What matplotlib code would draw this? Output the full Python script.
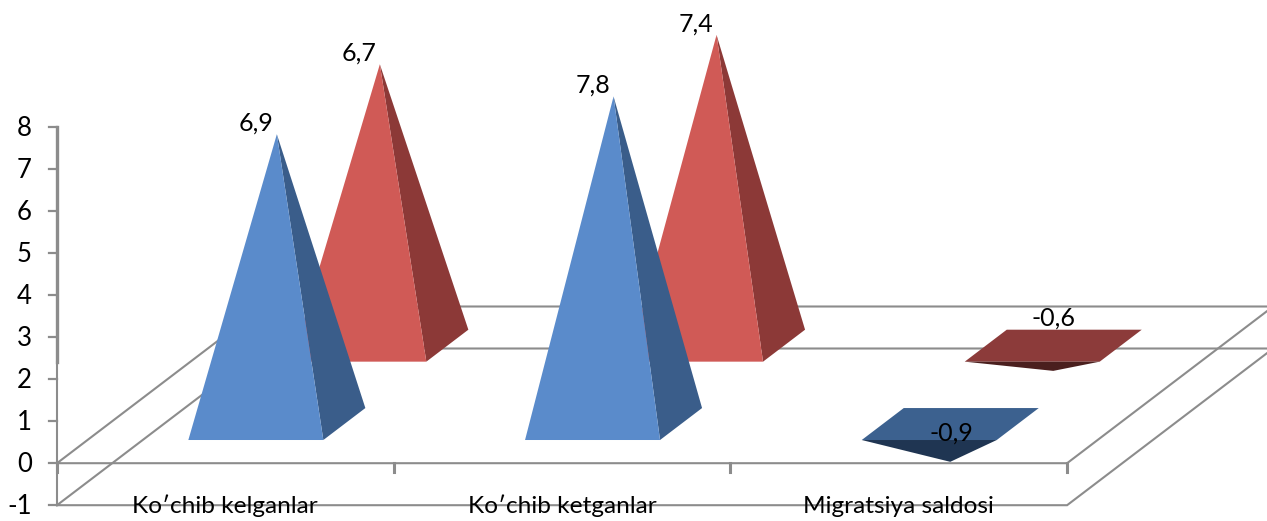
import matplotlib
matplotlib.use('Agg')
import matplotlib.pyplot as plt
from matplotlib.patches import Polygon

plt.rcParams['font.family'] = ['Lato', 'DejaVu Sans']

categories = ['Ko′chib kelganlar', 'Ko′chib ketganlar', 'Migratsiya saldosi']
series_a = [6.9, 7.8, -0.9]
series_b = [6.7, 7.4, -0.6]
labels_a = ['6,9', '7,8', '-0,9']
labels_b = ['6,7', '7,4', '-0,6']
value_ticks = [-1, 0, 1, 2, 3, 4, 5, 6, 7, 8]

# oblique projection, in category / value units
DEPTH_X = 206 / 336.7
DEPTH_Y = 156.7 / 42
WIDTH = 135 / 336.7
BASE_DEPTH = 0.204
GREY = '#8c8c8c'


def project(x, d, v):
    return (x + d * DEPTH_X, v + d * DEPTH_Y)


def pyramid(ax, cat, d_mid, value, light, dark, top, under, zorder):
    x = cat + 0.5
    d0 = d_mid - BASE_DEPTH / 2
    d1 = d_mid + BASE_DEPTH / 2
    fl = project(x - WIDTH / 2, d0, 0)
    fr = project(x + WIDTH / 2, d0, 0)
    br = project(x + WIDTH / 2, d1, 0)
    bl = project(x - WIDTH / 2, d1, 0)
    apex = project(x, d_mid, value)
    if value > 0:
        ax.add_patch(Polygon([fr, br, apex], fc=dark, ec='none', zorder=zorder))
        ax.add_patch(Polygon([fl, fr, apex], fc=light, ec='none', zorder=zorder))
    else:
        ax.add_patch(Polygon([fl, fr, br, bl], fc=top, ec='none', zorder=zorder))
        ax.add_patch(Polygon([fl, fr, apex], fc=under, ec='none', zorder=zorder))
    return apex


fig = plt.figure(figsize=(12.67, 5.21), dpi=100)
ax = fig.add_axes([0, 0, 1, 1])
ax.set_xlim(-57 / 336.7, (1267 - 57) / 336.7)
ax.set_ylim((463.2 - 521) / 42, 463.2 / 42)
ax.axis('off')

# floor frames at value 0 and at the axis minimum
n = len(categories)
for v in [0, value_ticks[0]]:
    corners = [project(0, 0, v), project(n, 0, v), project(n, 1, v), project(0, 1, v), project(0, 0, v)]
    ax.plot([c[0] for c in corners], [c[1] for c in corners], color=GREY, lw=1.5, zorder=1,
            solid_joinstyle='miter')

# value axis, heavier in its upper part
ax.plot([0, 0], [value_ticks[0], 2.4], color=GREY, lw=1.5, zorder=1)
ax.plot([0, 0], [2.4, value_ticks[-1]], color=GREY, lw=2.4, zorder=1)
for t in value_ticks:
    ax.plot([-8 / 336.7, 0], [t, t], color=GREY, lw=1.6, zorder=1)
    ax.text(-25 / 336.7, t - 1.5 / 42, str(t), ha='right', va='center', fontsize=18.5, color='black', zorder=5)

for i in range(n + 1):
    ax.plot([i, i], [0, -9 / 42], color=GREY, lw=2.2, zorder=1)

for i, name in enumerate(categories):
    ax.text(i + 0.5, -1.02, name, ha='center', va='center', fontsize=17.6, color='black', zorder=5)

offsets_b = [(-21, 11), (-21, 11), (0, 53)]
offsets_a = [(-21, 11), (-21, 11), (1, 29)]
for i in range(n):
    apex = pyramid(ax, i, 0.75, series_b[i], '#d05a56', '#8c3937', '#8c3b3a', '#4a1f1e', 2)
    ax.annotate(labels_b[i], apex, xytext=offsets_b[i], textcoords='offset pixels',
                ha='center', va='center', fontsize=18, color='black', zorder=5)
for i in range(n):
    apex = pyramid(ax, i, 0.25, series_a[i], '#5a8bcb', '#3a5d8a', '#3c618f', '#1f3552', 3)
    ax.annotate(labels_a[i], apex, xytext=offsets_a[i], textcoords='offset pixels',
                ha='center', va='center', fontsize=18, color='black', zorder=5)

fig.savefig('out.png', dpi=100)
